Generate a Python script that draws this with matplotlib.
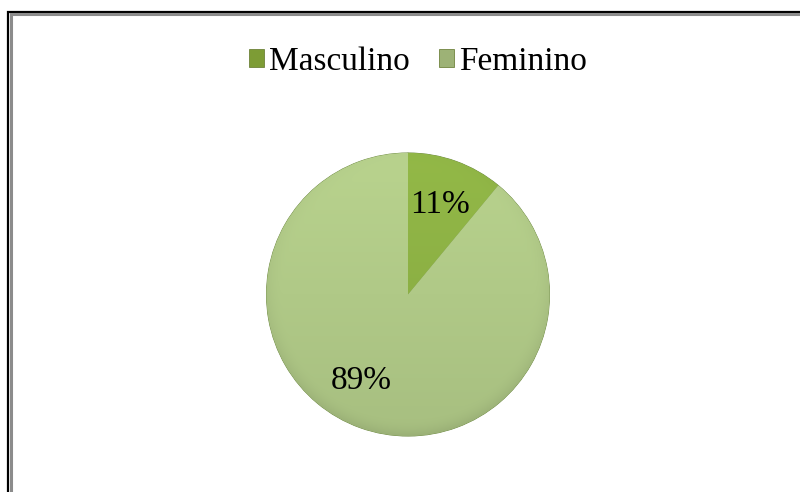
import matplotlib.pyplot as plt
import numpy as np
from matplotlib.colors import to_rgb
from matplotlib.patches import Rectangle

# dados
categorias = ['Masculino', 'Feminino']
valores = [11, 89]
cores = ['#8cb044', '#b0c987']
cores_legenda = ['#7d9c35', '#9db276']

plt.rcParams['font.family'] = ['Liberation Serif', 'DejaVu Serif']

fig = plt.figure(figsize=(8, 4.92), dpi=100)
fig.patch.set_facecolor('white')

# moldura (linha preta + sombra cinza)
fig.add_artist(Rectangle((7.5 / 800, -0.1), 1.2, 1.1 - 11.5 / 492, transform=fig.transFigure,
                         fill=False, edgecolor='black', linewidth=1.6))
fig.add_artist(Rectangle((10.5 / 800, -0.1), 1.2, 1.1 - 14 / 492, transform=fig.transFigure,
                         fill=False, edgecolor='#8c8c8c', linewidth=2.2))

cx, cy, r = 408 / 800, 1 - 294.5 / 492, 143
ax = fig.add_axes([cx - r / 800, cy - r / 492, 2 * r / 800, 2 * r / 492])

wedges, textos, pcts = ax.pie(valores, colors=cores, startangle=90, counterclock=False,
                              autopct='%1.0f%%', pctdistance=0.67, radius=1,
                              wedgeprops=dict(edgecolor='#6f8a45', linewidth=0.6),
                              textprops=dict(fontsize=24, color='black'))
ax.set_xlim(-1.01, 1.01)
ax.set_ylim(-1.01, 1.01)
ax.set_aspect('equal')
ax.axis('off')

# o rótulo de 89% fica um pouco mais à esquerda no original
px, py = pcts[1].get_position()
pcts[1].set_position((px - 0.1, py + 0.02))

# sombreado em gradiente dentro de cada fatia
yy, xx = np.mgrid[1.01:-1.01:400j, -1.01:1.01:400j]
rr = np.sqrt(xx ** 2 + yy ** 2)
borda = np.clip((rr - 0.88) / 0.12, 0, 1) ** 2
for w, c in zip(wedges, cores):
    base = np.array(to_rgb(c))
    fator = 1.0 + 0.05 * yy - 0.07 * borda * (0.6 - 0.4 * yy)
    img = np.clip(base[None, None, :] * fator[..., None], 0, 1)
    im = ax.imshow(img, extent=(-1.01, 1.01, -1.01, 1.01), zorder=1.5, interpolation='bilinear')
    im.set_clip_path(w)
for t in pcts:
    t.set_zorder(3)

handles = [Rectangle((0, 0), 1, 1, facecolor=c, edgecolor='#5d7326', linewidth=0.5)
           for c in cores_legenda]
fig.legend(handles, categorias, loc='center', bbox_to_anchor=(418 / 800, 1 - 62 / 492),
           ncol=2, frameon=False, fontsize=24, handlelength=0.45, handleheight=0.45,
           handletextpad=0.15, columnspacing=0.9)

plt.savefig('out.png', dpi=100)
